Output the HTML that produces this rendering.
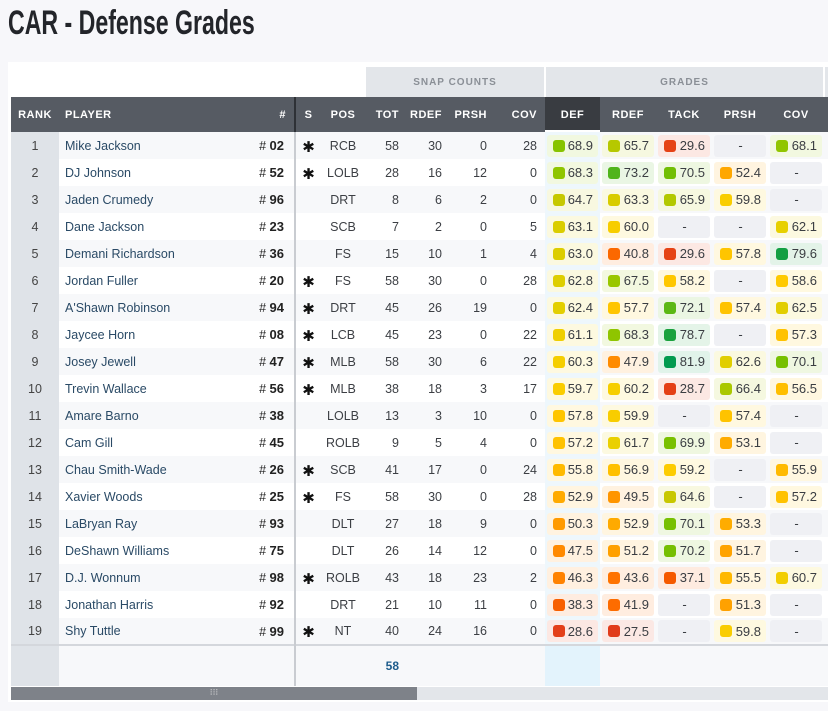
<!DOCTYPE html>
<html><head><meta charset="utf-8">
<style>
*{box-sizing:border-box;margin:0;padding:0}
body{width:828px;height:711px;overflow:hidden;background:#f7f7fa;font-family:"Liberation Sans",sans-serif;color:#333;position:relative}
h1{position:absolute;left:8px;top:4px;font-family:"Liberation Sans",sans-serif;font-weight:bold;font-size:34px;color:#23252a;transform:scaleX(0.68);transform-origin:left;white-space:nowrap}
#wrap{position:absolute;left:8px;top:62px;width:830px;height:640px;background:#fff}
table{position:absolute;left:3px;top:5px;border-collapse:collapse;table-layout:fixed;font-size:12.5px}
td,th{padding:0;white-space:nowrap}
.grp td{height:30px}
.grp .g{background:#e3e6ea;color:#8a8f96;font-size:10px;font-weight:bold;letter-spacing:1px;text-align:center;border-left:2px solid #fff}
.hd th{height:35px;background:#565b63;color:#fff;font-size:11px;font-weight:bold;letter-spacing:.5px;text-align:right;padding-right:8px}
.hd th.c{text-align:center;padding:0}
.hd th.l{text-align:left;padding-left:6px}
.hd th.def{background:#393c41;box-shadow:inset 0 -2px 0 #fff;text-align:center;padding:0}
.hd th.div{border-right:2px solid #2e3136}
tbody tr td{height:27px;color:#3c3f44}
tbody tr:nth-child(odd) td{background:#f7f8fa}
tbody tr:nth-child(even) td{background:#fff}
td.rk{background:#dfe3e8 !important;text-align:center;color:#444}
td.pl{color:#2a4a66;padding-left:6px}
td.nm{text-align:right;padding-right:10px;color:#222;border-right:2px solid #c9ccd1}
td.nm b{font-size:13px}
td.s{text-align:center;font-size:15px;color:#111;font-family:"DejaVu Sans",sans-serif;padding-top:2px}
td.c{text-align:center}
td.r{text-align:right;padding-right:8px}
td.gd{padding:0 2px}
td.dcol{background:#eef7fc !important}
.p{height:22px;border-radius:3px;display:flex;align-items:center;justify-content:space-between;padding:0 5px 0 6px;font-size:13px;color:#3a3d42}
.p i{width:12px;height:12px;border-radius:3px;display:block}
.p.n{justify-content:center;background:#eff0f4}
.ft td{height:41px;background:#fff;border-top:2px solid #d4d7dc}
#sb{position:absolute;left:11px;top:687px;width:817px;height:13px;background:#e3e6ea}
#sb div{position:absolute;left:0;top:0;width:406px;height:13px;background:#7e8289;color:#ddd;font-size:9px;text-align:center;line-height:10px}
</style></head><body>
<h1>CAR - Defense Grades</h1>
<div id="wrap">
<table>
<colgroup><col style="width:48px"><col style="width:178px"><col style="width:58px"><col style="width:26px"><col style="width:44px"><col style="width:42px"><col style="width:43px"><col style="width:45px"><col style="width:50px"><col style="width:55px"><col style="width:56px"><col style="width:56px"><col style="width:56px"><col style="width:56px"><col style="width:10px"></colgroup>
<tr class="grp"><td colspan="5" style="background:#fff"></td><td colspan="4" class="g">SNAP COUNTS</td><td colspan="5" class="g">GRADES</td><td class="g"></td></tr>
<tr class="hd"><th class="c">RANK</th><th class="l">PLAYER</th><th class="div">#</th><th class="c">S</th><th class="c">POS</th><th>TOT</th><th>RDEF</th><th>PRSH</th><th>COV</th><th class="def">DEF</th><th class="c">RDEF</th><th class="c">TACK</th><th class="c">PRSH</th><th class="c">COV</th><th></th></tr>
<tbody id="tb">
<tr><td class="rk">1</td><td class="pl">Mike Jackson</td><td class="nm"># <b>02</b></td><td class="s">✱</td><td class="c">RCB</td><td class="r">58</td><td class="r">30</td><td class="r">0</td><td class="r">28</td><td class="gd dcol">68.9</td><td class="gd">65.7</td><td class="gd">29.6</td><td class="gd">-</td><td class="gd">68.1</td><td></td></tr>
<tr><td class="rk">2</td><td class="pl">DJ Johnson</td><td class="nm"># <b>52</b></td><td class="s">✱</td><td class="c">LOLB</td><td class="r">28</td><td class="r">16</td><td class="r">12</td><td class="r">0</td><td class="gd dcol">68.3</td><td class="gd">73.2</td><td class="gd">70.5</td><td class="gd">52.4</td><td class="gd">-</td><td></td></tr>
<tr><td class="rk">3</td><td class="pl">Jaden Crumedy</td><td class="nm"># <b>96</b></td><td class="s"></td><td class="c">DRT</td><td class="r">8</td><td class="r">6</td><td class="r">2</td><td class="r">0</td><td class="gd dcol">64.7</td><td class="gd">63.3</td><td class="gd">65.9</td><td class="gd">59.8</td><td class="gd">-</td><td></td></tr>
<tr><td class="rk">4</td><td class="pl">Dane Jackson</td><td class="nm"># <b>23</b></td><td class="s"></td><td class="c">SCB</td><td class="r">7</td><td class="r">2</td><td class="r">0</td><td class="r">5</td><td class="gd dcol">63.1</td><td class="gd">60.0</td><td class="gd">-</td><td class="gd">-</td><td class="gd">62.1</td><td></td></tr>
<tr><td class="rk">5</td><td class="pl">Demani Richardson</td><td class="nm"># <b>36</b></td><td class="s"></td><td class="c">FS</td><td class="r">15</td><td class="r">10</td><td class="r">1</td><td class="r">4</td><td class="gd dcol">63.0</td><td class="gd">40.8</td><td class="gd">29.6</td><td class="gd">57.8</td><td class="gd">79.6</td><td></td></tr>
<tr><td class="rk">6</td><td class="pl">Jordan Fuller</td><td class="nm"># <b>20</b></td><td class="s">✱</td><td class="c">FS</td><td class="r">58</td><td class="r">30</td><td class="r">0</td><td class="r">28</td><td class="gd dcol">62.8</td><td class="gd">67.5</td><td class="gd">58.2</td><td class="gd">-</td><td class="gd">58.6</td><td></td></tr>
<tr><td class="rk">7</td><td class="pl">A'Shawn Robinson</td><td class="nm"># <b>94</b></td><td class="s">✱</td><td class="c">DRT</td><td class="r">45</td><td class="r">26</td><td class="r">19</td><td class="r">0</td><td class="gd dcol">62.4</td><td class="gd">57.7</td><td class="gd">72.1</td><td class="gd">57.4</td><td class="gd">62.5</td><td></td></tr>
<tr><td class="rk">8</td><td class="pl">Jaycee Horn</td><td class="nm"># <b>08</b></td><td class="s">✱</td><td class="c">LCB</td><td class="r">45</td><td class="r">23</td><td class="r">0</td><td class="r">22</td><td class="gd dcol">61.1</td><td class="gd">68.3</td><td class="gd">78.7</td><td class="gd">-</td><td class="gd">57.3</td><td></td></tr>
<tr><td class="rk">9</td><td class="pl">Josey Jewell</td><td class="nm"># <b>47</b></td><td class="s">✱</td><td class="c">MLB</td><td class="r">58</td><td class="r">30</td><td class="r">6</td><td class="r">22</td><td class="gd dcol">60.3</td><td class="gd">47.9</td><td class="gd">81.9</td><td class="gd">62.6</td><td class="gd">70.1</td><td></td></tr>
<tr><td class="rk">10</td><td class="pl">Trevin Wallace</td><td class="nm"># <b>56</b></td><td class="s">✱</td><td class="c">MLB</td><td class="r">38</td><td class="r">18</td><td class="r">3</td><td class="r">17</td><td class="gd dcol">59.7</td><td class="gd">60.2</td><td class="gd">28.7</td><td class="gd">66.4</td><td class="gd">56.5</td><td></td></tr>
<tr><td class="rk">11</td><td class="pl">Amare Barno</td><td class="nm"># <b>38</b></td><td class="s"></td><td class="c">LOLB</td><td class="r">13</td><td class="r">3</td><td class="r">10</td><td class="r">0</td><td class="gd dcol">57.8</td><td class="gd">59.9</td><td class="gd">-</td><td class="gd">57.4</td><td class="gd">-</td><td></td></tr>
<tr><td class="rk">12</td><td class="pl">Cam Gill</td><td class="nm"># <b>45</b></td><td class="s"></td><td class="c">ROLB</td><td class="r">9</td><td class="r">5</td><td class="r">4</td><td class="r">0</td><td class="gd dcol">57.2</td><td class="gd">61.7</td><td class="gd">69.9</td><td class="gd">53.1</td><td class="gd">-</td><td></td></tr>
<tr><td class="rk">13</td><td class="pl">Chau Smith-Wade</td><td class="nm"># <b>26</b></td><td class="s">✱</td><td class="c">SCB</td><td class="r">41</td><td class="r">17</td><td class="r">0</td><td class="r">24</td><td class="gd dcol">55.8</td><td class="gd">56.9</td><td class="gd">59.2</td><td class="gd">-</td><td class="gd">55.9</td><td></td></tr>
<tr><td class="rk">14</td><td class="pl">Xavier Woods</td><td class="nm"># <b>25</b></td><td class="s">✱</td><td class="c">FS</td><td class="r">58</td><td class="r">30</td><td class="r">0</td><td class="r">28</td><td class="gd dcol">52.9</td><td class="gd">49.5</td><td class="gd">64.6</td><td class="gd">-</td><td class="gd">57.2</td><td></td></tr>
<tr><td class="rk">15</td><td class="pl">LaBryan Ray</td><td class="nm"># <b>93</b></td><td class="s"></td><td class="c">DLT</td><td class="r">27</td><td class="r">18</td><td class="r">9</td><td class="r">0</td><td class="gd dcol">50.3</td><td class="gd">52.9</td><td class="gd">70.1</td><td class="gd">53.3</td><td class="gd">-</td><td></td></tr>
<tr><td class="rk">16</td><td class="pl">DeShawn Williams</td><td class="nm"># <b>75</b></td><td class="s"></td><td class="c">DLT</td><td class="r">26</td><td class="r">14</td><td class="r">12</td><td class="r">0</td><td class="gd dcol">47.5</td><td class="gd">51.2</td><td class="gd">70.2</td><td class="gd">51.7</td><td class="gd">-</td><td></td></tr>
<tr><td class="rk">17</td><td class="pl">D.J. Wonnum</td><td class="nm"># <b>98</b></td><td class="s">✱</td><td class="c">ROLB</td><td class="r">43</td><td class="r">18</td><td class="r">23</td><td class="r">2</td><td class="gd dcol">46.3</td><td class="gd">43.6</td><td class="gd">37.1</td><td class="gd">55.5</td><td class="gd">60.7</td><td></td></tr>
<tr><td class="rk">18</td><td class="pl">Jonathan Harris</td><td class="nm"># <b>92</b></td><td class="s"></td><td class="c">DRT</td><td class="r">21</td><td class="r">10</td><td class="r">11</td><td class="r">0</td><td class="gd dcol">38.3</td><td class="gd">41.9</td><td class="gd">-</td><td class="gd">51.3</td><td class="gd">-</td><td></td></tr>
<tr><td class="rk">19</td><td class="pl">Shy Tuttle</td><td class="nm"># <b>99</b></td><td class="s">✱</td><td class="c">NT</td><td class="r">40</td><td class="r">24</td><td class="r">16</td><td class="r">0</td><td class="gd dcol">28.6</td><td class="gd">27.5</td><td class="gd">-</td><td class="gd">59.8</td><td class="gd">-</td><td></td></tr>
</tbody>
<tr class="ft"><td class="rk" style="background:#dfe3e8"></td><td></td><td style="border-right:2px solid #c9ccd1"></td><td></td><td></td><td class="r" style="color:#1d5c8c;font-weight:bold;font-size:12px">58</td><td></td><td></td><td></td><td style="background:#e3f3fc"></td><td></td><td></td><td></td><td></td><td></td></tr>
</table>
</div>
<div id="sb"><div>⁝⁝⁝</div></div>
<script>
var stops=[[27,[224,58,28]],[37,[245,90,0]],[43,[255,112,0]],[48,[255,140,0]],[52,[255,165,0]],[56,[255,187,0]],[59,[255,204,0]],[62,[232,208,0]],[64.6,[200,200,0]],[67,[160,200,0]],[70,[120,192,0]],[72,[92,184,20]],[79,[24,160,64]],[82,[0,154,80]],[100,[0,154,80]]];
function col(v){for(var i=0;i<stops.length-1;i++){var a=stops[i],b=stops[i+1];if(v<=b[0]){var t=Math.max(0,(v-a[0])/(b[0]-a[0]));return a[1].map(function(x,k){return Math.round(x+(b[1][k]-x)*t)})}}return stops[stops.length-1][1]}
document.querySelectorAll('td.gd').forEach(function(td){var t=td.textContent.trim();if(t==='-'){td.innerHTML='<div class="p n">-</div>';return}var c=col(parseFloat(t));var bg=c.map(function(x){return Math.round(255-(255-x)*0.12)});td.innerHTML='<div class="p" style="background:rgb('+bg+')"><i style="background:rgb('+c+')"></i>'+t+'</div>'});
</script>
</body></html>
